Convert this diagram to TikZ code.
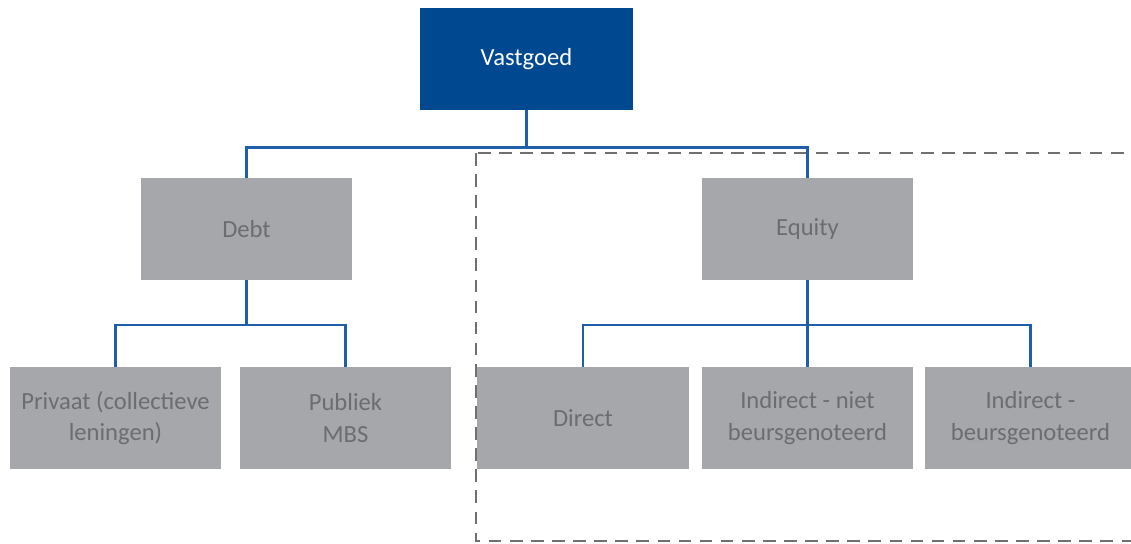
\documentclass[tikz,border=0pt]{standalone}
\usepackage{fontspec}
\setmainfont{Carlito}
\usetikzlibrary{positioning}

\definecolor{darkblue}{RGB}{0,73,144}
\definecolor{lineblue}{RGB}{31,95,170}
\definecolor{boxgray}{RGB}{166,167,171}
\definecolor{textgray}{RGB}{108,109,112}
\definecolor{dashgray}{RGB}{112,112,112}

\tikzset{
  catbox/.style={rectangle, fill=boxgray, text=textgray, align=center,
    minimum width=5.275cm, minimum height=2.525cm, inner sep=0pt,
    font=\fontsize{17.5}{22.5}\selectfont},
  topbox/.style={catbox, fill=darkblue, text=white, minimum width=5.325cm, minimum height=2.55cm},
  link/.style={lineblue, line width=1.8pt}
}

\begin{document}
\begin{tikzpicture}[x=0.025cm, y=-0.025cm]

\useasboundingbox (0,0) rectangle (1131,544);
\clip (0,0) rectangle (1131,544);

% dashed frame round the equity side
\draw[dashgray, line width=2.1pt, dash pattern=on 9pt off 6pt] (476,153) rectangle (1150,541);

\node[topbox] (vastgoed) at (526.5,59) {Vastgoed};

\node[catbox] (debt) at (246.5,229) {Debt};
\node[catbox] (equity) at (807.5,229) {Equity};

\node[catbox] (privaat) at (115.5,418) {Privaat (collectieve\\leningen)};
\node[catbox] (publiek) at (345.5,418) {Publiek\\MBS};
\node[catbox] (direct) at (583,418) {Direct};
\node[catbox] (indniet) at (807.5,418) {Indirect - niet\\beursgenoteerd};
\node[catbox] (indbeurs) at (1030.5,418) {Indirect -\\beursgenoteerd};

\draw[link] (vastgoed.south) -- ++(0,37) coordinate (bus1);
\draw[link] (bus1) -| (debt.north);
\draw[link] (bus1) -| (equity.north);

\draw[link] (debt.south) -- ++(0,45) coordinate (bus2);
\draw[link] (bus2) -| (privaat.north);
\draw[link] (bus2) -| (publiek.north);

\draw[link] (equity.south) -- ++(0,45) coordinate (bus3);
\draw[link] (bus3) -| (direct.north);
\draw[link] (bus3) -- (indniet.north);
\draw[link] (bus3) -| (indbeurs.north);

\end{tikzpicture}
\end{document}
